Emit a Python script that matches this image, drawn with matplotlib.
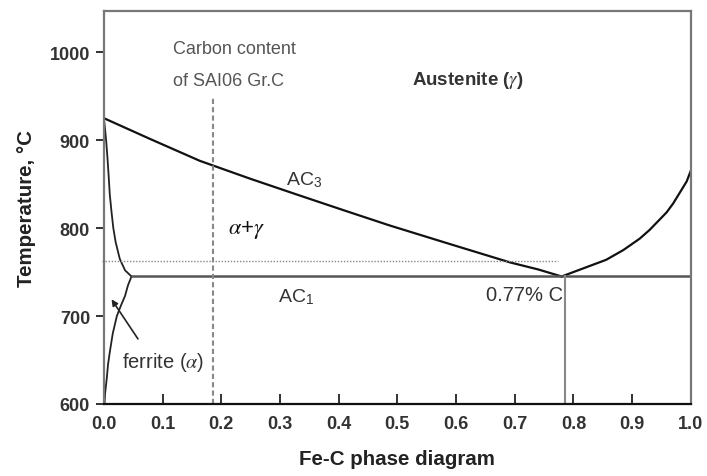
import matplotlib
matplotlib.use('Agg')
import matplotlib.pyplot as plt

plt.rcParams['font.family'] = ['Liberation Sans', 'DejaVu Sans']
plt.rcParams['mathtext.fontset'] = 'stix'

# phase boundaries (wt% C, temperature in C)
ac3_c = [0.0, 0.08, 0.1635, 0.25, 0.334, 0.41, 0.487, 0.589, 0.692, 0.74, 0.78]
ac3_t = [925, 901, 876.5, 856, 837, 820, 803, 782, 761, 753, 745]

acm_c = [0.78, 0.828, 0.856, 0.885, 0.913, 0.930, 0.959, 0.970, 0.993, 1.0]
acm_t = [745, 757, 764, 775, 788, 798, 818, 828, 853, 865]

a3_left_c = [0.0, 0.002, 0.004, 0.006, 0.008, 0.010, 0.013, 0.016, 0.020, 0.027, 0.036, 0.047]
a3_left_t = [925, 912, 898, 880, 860, 838, 818, 800, 784, 765, 752, 745]

solvus_c = [0.047, 0.041, 0.036, 0.029, 0.022, 0.015, 0.010, 0.007, 0.005, 0.002, 0.001]
solvus_t = [745, 735, 723, 712, 700, 680, 659, 645, 630, 612, 600]

ac1_c = [0.047, 1.0]
ac1_t = [745, 745]

sample_c = 0.186        # carbon content of SAI06 Gr.C
sample_top = 949
eutectoid_c = 0.785
eutectoid_t = 745
dotted_t = 763
dotted_end = 0.773

xticks = [0.0, 0.1, 0.2, 0.3, 0.4, 0.5, 0.6, 0.7, 0.8, 0.9, 1.0]
yticks = [600, 700, 800, 900, 1000]

fig = plt.figure(figsize=(7.07, 4.77), dpi=100)
ax = fig.add_axes([0.147, 0.151, 0.830, 0.824])

ax.plot(ac3_c, ac3_t, color='#111111', lw=1.6)
ax.plot(acm_c, acm_t, color='#111111', lw=1.6)
ax.plot(a3_left_c, a3_left_t, color='#222222', lw=1.3)
ax.plot(solvus_c, solvus_t, color='#222222', lw=1.3)
ax.plot(ac1_c, ac1_t, color='#555555', lw=1.8)

ax.plot([sample_c, sample_c], [600, sample_top], color='#888888', lw=1.5, ls=(0, (2.5, 1.5)))
ax.plot([eutectoid_c, eutectoid_c], [600, eutectoid_t], color='#888888', lw=1.5)
ax.plot([-0.004, dotted_end], [dotted_t, dotted_t], color='#888888', lw=1.0,
        ls=(0, (1, 1.2)), clip_on=False)

ax.annotate('', xy=(0.013, 719), xytext=(0.058, 674),
            arrowprops=dict(arrowstyle='-|>', color='#222222', lw=1.2,
                            mutation_scale=9, shrinkA=0, shrinkB=0))

tc = '#333333'
ax.text(0.1175, 1004, 'Carbon content', fontsize=13, color='#555555', va='center')
ax.text(0.1175, 968, 'of SAI06 Gr.C', fontsize=13, color='#555555', va='center')
ax.text(0.525, 969, r'Austenite ($\gamma$)', fontsize=13.5, color=tc, va='center',
        fontweight='bold')
ax.text(0.31, 856, r'AC$_{\mathregular{3}}$', fontsize=14, color=tc, va='center')
ax.text(0.211, 799, r'$\alpha$+$\gamma$', fontsize=16, color='#111111', va='center')
ax.text(0.296, 723, r'AC$_{\mathregular{1}}$', fontsize=14, color=tc, va='center')
ax.text(0.782, 724, '0.77% C', fontsize=14.5, color=tc, va='center', ha='right')
ax.text(0.031, 648, r'ferrite ($\alpha$)', fontsize=14.5, color=tc, va='center')

ax.set_xlim(0, 1.0)
ax.set_ylim(600, 1047)
ax.set_xticks(xticks)
ax.set_xticklabels([f'{v:.1f}' for v in xticks])
ax.set_yticks(yticks)

ax.tick_params(axis='x', direction='in', length=7, width=1.3, pad=8,
               labelsize=13, labelcolor='#333333', color='#222222')
ax.tick_params(axis='y', direction='out', length=6, width=1.3, pad=4,
               labelsize=13, labelcolor='#333333', color='#222222')
for lab in ax.get_xticklabels() + ax.get_yticklabels():
    lab.set_fontweight('bold')

for side in ['left', 'top', 'right']:
    ax.spines[side].set_color('#777777')
    ax.spines[side].set_linewidth(1.6)
ax.spines['bottom'].set_color('#111111')
ax.spines['bottom'].set_linewidth(1.6)

ax.set_xlabel('Fe-C phase diagram', fontsize=14.8, fontweight='bold', color='#222222',
              labelpad=12)
ax.set_ylabel('Temperature, °C', fontsize=14.8, fontweight='bold', color='#222222',
              labelpad=10)

fig.savefig('out.png', dpi=100)
